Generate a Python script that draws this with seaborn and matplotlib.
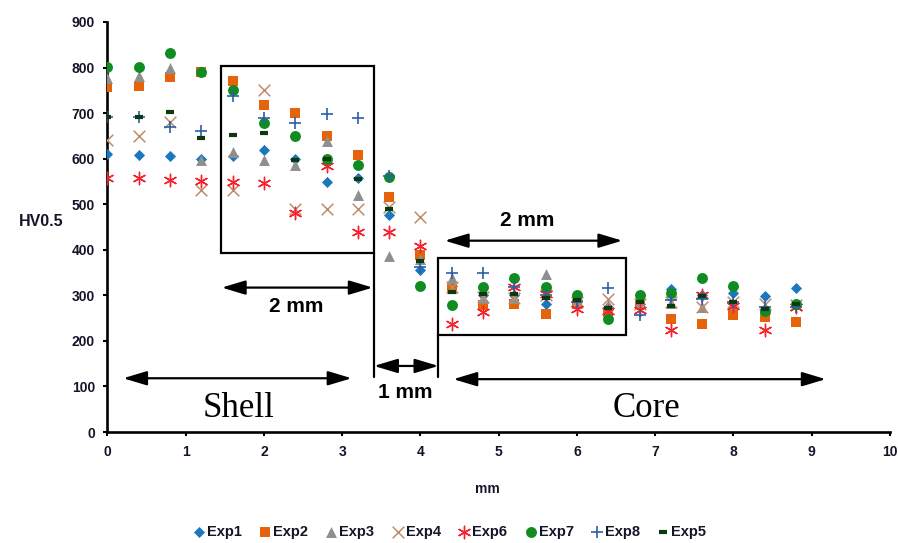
import matplotlib
matplotlib.use("Agg")
import matplotlib.pyplot as plt
import seaborn as sns
import pandas as pd
from matplotlib.patches import Rectangle, ArrowStyle
from matplotlib import font_manager

# ---------------- data ----------------
depth_mm = [0, 0.4, 0.8, 1.2, 1.6, 2.0, 2.4, 2.8, 3.2, 3.6, 4.0, 4.4,
            4.8, 5.2, 5.6, 6.0, 6.4, 6.8, 7.2, 7.6, 8.0, 8.4, 8.8]

exp1 = [611, 609, 606, 600, 605, 618, 600, 549, 558, 476, 355, 320,
        300, 300, 280, 290, 275, 280, 313, 300, 305, 298, 317]
exp2 = [757, 759, 779, 790, 770, 717, 700, 649, 607, 516, 388, 315,
        278, 282, 258, 282, 264, 282, 247, 238, 257, 253, 242]
exp3 = [778, 781, 800, 598, 615, 596, 587, 639, 520, 386, 380, 337,
        295, 295, 346, 290, 278, 285, 283, 275, 280, 270, 280]
exp4 = [642, 650, 680, 531, 531, 750, 489, 489, 489, 494, 472, 319,
        296, 295, 300, 285, 292, 280, 285, 275, 285, 282, 278]
exp6 = [557, 558, 554, 550, 549, 547, 481, 583, 439, 439, 408, 238,
        264, 318, 302, 271, 265, 268, 224, 300, 276, 224, 275]
exp7 = [801, 801, 832, 790, 751, 678, 650, 600, 587, 560, 320, 278,
        319, 338, 319, 300, 249, 300, 305, 339, 320, 266, 282]
exp8 = [692, 692, 670, 660, 738, 690, 678, 697, 690, 563, 363, 348,
        348, 319, 300, 286, 316, 257, 289, 293, 285, 275, 275]
exp5 = [692, 692, 702, 645, 651, 656, 596, 600, 555, 489, 376, 308,
        302, 302, 295, 289, 273, 285, 276, 299, 286, 269, 281]

series_names = ["Exp1", "Exp2", "Exp3", "Exp4", "Exp6", "Exp7", "Exp8", "Exp5"]
series_values = [exp1, exp2, exp3, exp4, exp6, exp7, exp8, exp5]

x_ticks = list(range(0, 11))
y_ticks = list(range(0, 901, 100))

# ---------------- styles ----------------
styles = {
    "Exp1": dict(marker="D", color="#1a78bf", s=32, lw=0),
    "Exp2": dict(marker="s", color="#e4630b", s=62, lw=0),
    "Exp3": dict(marker="^", color="#8f8f8f", s=62, lw=0),
    "Exp4": dict(marker="x", color="#c08c6a", s=70, lw=1.1),
    "Exp6": dict(marker=(6, 2, 0), color="#f5212d", s=80, lw=1.0),
    "Exp7": dict(marker="o", color="#118c22", s=62, lw=0),
    "Exp8": dict(marker="+", color="#2c5ea8", s=80, lw=1.2),
    "Exp5": dict(marker="_", color="#0b3a0b", s=30, lw=3.0),
}

sns.set_theme(style="ticks")
plt.rcParams["font.family"] = ["Liberation Sans", "DejaVu Sans"]

installed = {f.name for f in font_manager.fontManager.ttflist}
if "Liberation Sans Narrow" in installed:
    mm_family, mm_size = "Liberation Sans Narrow", 17
else:
    mm_family, mm_size = "Liberation Sans", 15

fig = plt.figure(figsize=(8.98, 5.43), dpi=100)
ax = fig.add_axes([0.1197, 0.2044, 0.8713, 0.7551])

for name, vals in zip(series_names, series_values):
    st = styles[name]
    df = pd.DataFrame({"mm": depth_mm, "HV": vals})
    kw = dict(data=df, x="mm", y="HV", ax=ax, marker=st["marker"],
              color=st["color"], s=st["s"], label=name, zorder=3)
    if st["lw"] > 0:
        kw.update(linewidth=st["lw"], edgecolor=st["color"])
    else:
        kw.update(linewidth=0)
    sns.scatterplot(**kw)

ax.set_xlim(0, 10)
ax.set_ylim(0, 900)
ax.set_xticks(x_ticks)
ax.set_yticks(y_ticks)
sns.despine(ax=ax)
for sp in ["left", "bottom"]:
    ax.spines[sp].set_linewidth(1.9)
    ax.spines[sp].set_color("black")
ax.tick_params(axis="both", direction="out", length=3, width=1.5,
               labelsize=10, colors="black", labelcolor="#15152a", pad=6)
for lab in ax.get_xticklabels() + ax.get_yticklabels():
    lab.set_fontweight("bold")

ax.set_xlabel("mm", fontsize=10, fontweight="bold", color="#15152a")
ax.xaxis.set_label_coords(0.485, -0.122)
ax.set_ylabel("HV0.5", fontsize=11.5, fontweight="bold", color="#15152a",
              rotation=0, labelpad=0)
ax.yaxis.set_label_coords(-0.085, 0.495)

# ---------------- annotations ----------------
box_kw = dict(fill=False, edgecolor="black", linewidth=1.6, zorder=4)
ax.add_patch(Rectangle((1.45, 394), 3.406 - 1.45, 803 - 394, **box_kw))
ax.add_patch(Rectangle((4.23, 213), 6.63 - 4.23, 381 - 213, **box_kw))
ax.plot([3.406, 3.406], [121, 394], color="black", lw=1.6, zorder=4)
ax.plot([4.23, 4.23], [121, 213], color="black", lw=1.6, zorder=4)

astyle = ArrowStyle("<|-|>", head_length=0.9, head_width=0.27)


def darrow(x0, x1, y):
    ax.annotate("", xy=(x1, y), xytext=(x0, y),
                arrowprops=dict(arrowstyle=astyle, color="black", lw=1.6,
                                mutation_scale=16, shrinkA=0, shrinkB=0),
                zorder=5)


darrow(0.20, 3.12, 118)      # Shell
darrow(3.406, 4.23, 145)     # 1 mm
darrow(1.46, 3.39, 317)      # 2 mm (shell box)
darrow(4.31, 6.58, 420)      # 2 mm (core box)
darrow(4.42, 9.18, 116)      # Core

mm_kw = dict(fontsize=mm_size, fontweight="bold", family=mm_family,
             ha="center", va="center", color="black")
ax.text(3.80, 86, "1 mm", **mm_kw)
ax.text(2.41, 275, "2 mm", **mm_kw)
ax.text(5.37, 464, "2 mm", **mm_kw)

serif_kw = dict(fontsize=25, family="Liberation Serif", ha="center",
                va="center", color="black")
ax.text(1.67, 52, "Shell", **serif_kw)
ax.text(6.89, 52, "Core", **serif_kw)

# ---------------- legend ----------------
leg = ax.legend(loc="center", bbox_to_anchor=(0.5, 0.02),
                bbox_transform=fig.transFigure, ncol=8, frameon=False,
                handletextpad=0.05, columnspacing=1.1, handlelength=1.0,
                prop={"weight": "bold", "size": 10.5})
for t in leg.get_texts():
    t.set_color("#15152a")

fig.savefig("out.png", dpi=100)
